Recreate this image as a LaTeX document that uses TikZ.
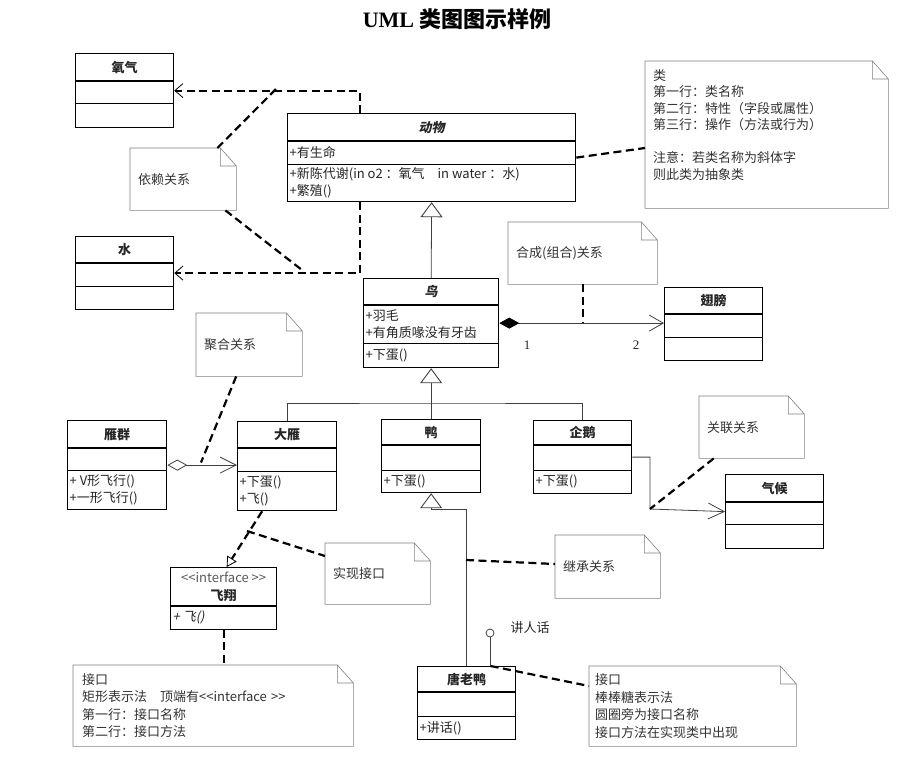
\documentclass[tikz,border=0pt]{standalone}
\usepackage{fontspec}
\setmainfont{Noto Sans CJK SC}[AutoFakeSlant=0.2, BoldItalicFeatures={FakeSlant=0.2}]
\newfontfamily\latinserif{Liberation Serif}
\usetikzlibrary{shapes.multipart,arrows.meta}

% one compartment of a class box: width, height, text
\newcommand{\cpart}[3]{\parbox[c][#2][c]{#1}{\centering #3}}
\newcommand{\cattr}[3]{\parbox[c][#2][c]{#1}{\raggedright\leftskip=2pt #3}}
% folded corner of a note
\newcommand{\noteframe}[1]{%
  \draw[notefr] (#1.north west) -- ([xshift=-16pt]#1.north east) -- ([yshift=-18pt]#1.north east)
    -- (#1.south east) -- (#1.south west) -- cycle
    ([xshift=-16pt]#1.north east) |- ([yshift=-18pt]#1.north east);}

\begin{document}
\begin{tikzpicture}[x=1pt, y=-1pt,
    classbox/.style={draw=black, line width=1.3pt, rectangle split, rectangle split parts=3,
      inner sep=0pt, anchor=north west, text=black!85, fill=white,
      font=\fontsize{13}{17.5}\selectfont},
    note/.style={anchor=north west, inner xsep=8pt, inner ysep=0pt, align=left,
      text=black!80, font=\fontsize{13}{17.5}\selectfont},
    notefr/.style={draw=black!50, line width=0.6pt},
    depend/.style={line width=2.2pt, dash pattern=on 8pt off 4.5pt},
    deparrow/.style={depend, -{Straight Barb[length=8pt,width=14pt,line width=0.8pt]}},
    solidline/.style={draw=black!75, line width=0.8pt},
    gen/.style={solidline, -{Triangle[open,length=15pt,width=22pt,line width=0.9pt]}},
    realize/.style={depend, -{Triangle[open,length=10pt,width=11pt,line width=0.8pt]}},
    assoc/.style={solidline, -{Straight Barb[length=16pt,width=16pt]}},
    compose/.style={solidline, {Diamond[length=20pt,width=11pt,color=black]}-{Straight Barb[length=14pt,width=16pt]}},
    aggreg/.style={solidline, {Diamond[open,length=20pt,width=11pt]}-{Straight Barb[length=16pt,width=16pt]}},
    lolly/.style={draw=black!75, line width=0.8pt, circle, minimum size=8pt, inner sep=0pt},
    mult/.style={font=\latinserif\fontsize{13}{15}\selectfont, text=black!85}]
\useasboundingbox (0,0) rectangle (918,764);

\node[font=\fontsize{22}{26}\selectfont\bfseries] (title) at (457,19) {{\latinserif UML} 类图图示样例};

% classes
\node[classbox] (yangqi) at (75,53) {\cpart{98pt}{26pt}{\bfseries 氧气}\nodepart{two}\cpart{98pt}{21pt}{}\nodepart{three}\cpart{98pt}{23pt}{}};
\node[classbox] (shui) at (75,236) {\cpart{98pt}{25pt}{\bfseries 水}\nodepart{two}\cpart{98pt}{22pt}{}\nodepart{three}\cpart{98pt}{22pt}{}};
\node[classbox] (dongwu) at (287,113) {\cpart{288pt}{26pt}{\bfseries\itshape 动物}\nodepart{two}\cattr{288pt}{22pt}{+有生命}\nodepart{three}\cattr{288pt}{36pt}{+新陈代谢(in o2 ：氧气\quad in water ：水)\\+繁殖()}};
\node[classbox] (niao) at (363,278) {\cpart{135pt}{25pt}{\bfseries\itshape 鸟}\nodepart{two}\cattr{135pt}{37pt}{+羽毛\\+有角质喙没有牙齿}\nodepart{three}\cattr{135pt}{23pt}{+下蛋()}};
\node[classbox] (chibang) at (664,287) {\cpart{98pt}{25pt}{\bfseries 翅膀}\nodepart{two}\cpart{98pt}{22pt}{}\nodepart{three}\cpart{98pt}{22pt}{}};
\node[classbox] (yanqun) at (67,420) {\cpart{99pt}{26pt}{\bfseries 雁群}\nodepart{two}\cpart{99pt}{21pt}{}\nodepart{three}\cattr{99pt}{38pt}{+ V形飞行()\\+一形飞行()}};
\node[classbox] (dayan) at (237,421) {\cpart{99pt}{25pt}{\bfseries 大雁}\nodepart{two}\cpart{99pt}{22pt}{}\nodepart{three}\cattr{99pt}{38pt}{+下蛋()\\+飞()}};
\node[classbox] (ya) at (381,419) {\cpart{99pt}{24pt}{\bfseries 鸭}\nodepart{two}\cpart{99pt}{24pt}{}\nodepart{three}\cattr{99pt}{21pt}{+下蛋()}};
\node[classbox] (qie) at (533,420) {\cpart{98pt}{23pt}{\bfseries 企鹅}\nodepart{two}\cpart{98pt}{24pt}{}\nodepart{three}\cattr{98pt}{22pt}{+下蛋()}};
\node[classbox] (qihou) at (725,474) {\cpart{98pt}{26pt}{\bfseries 气候}\nodepart{two}\cpart{98pt}{21pt}{}\nodepart{three}\cpart{98pt}{23pt}{}};
\node[classbox, rectangle split parts=2] (feixiang) at (170,567) {\cpart{106pt}{37pt}{\textcolor{black!65}{<{}<interface >{}>}\\\bfseries 飞翔}\nodepart{two}\cattr{106pt}{22pt}{\itshape + 飞()}};
\node[classbox] (tang) at (417,666) {\cpart{98pt}{24pt}{\bfseries 唐老鸭}\nodepart{two}\cpart{98pt}{23pt}{}\nodepart{three}\cattr{98pt}{22pt}{+讲话()}};

% notes
\node[note, text width=90pt, minimum height=62pt] (dnote) at (130,148) {依赖关系};
\node[note, text width=227pt, minimum height=147pt, font=\fontsize{13}{16.5}\selectfont] (cnote) at (645,61)
  {类\\第一行：类名称\\第二行：特性（字段或属性）\\第三行：操作（方法或行为）\\[16.5pt]注意：若类名称为斜体字\\则此类为抽象类\\[4pt]\mbox{}};
\node[note, text width=133pt, minimum height=62pt] (hnote) at (508,222) {合成(组合)关系};
\node[note, text width=90pt, minimum height=63pt] (jnote) at (196,313) {聚合关系};
\node[note, text width=89pt, minimum height=62pt] (gnote) at (699,396) {关联关系};
\node[note, text width=89pt, minimum height=61pt] (snote) at (325,543) {实现接口};
\node[note, text width=89pt, minimum height=63pt] (inote) at (555,535) {继承关系};
\node[note, text width=262pt, inner xsep=9pt, minimum height=81pt] (knote) at (73,665)
  {接口\\矩形表示法\quad 顶端有<{}<interface >{}>\\第一行：接口名称\\第二行：接口方法};
\node[note, text width=195pt, inner xsep=6pt, minimum height=80pt] (bnote) at (589,666)
  {接口\\棒棒糖表示法\\圆圈旁为接口名称\\接口方法在实现类中出现};
\foreach \n in {dnote,cnote,hnote,jnote,gnote,snote,inote,knote,bnote}
  \noteframe{\n};

% dependency
\draw[deparrow] ([xshift=-72pt]dongwu.north) |- (yangqi.east);
\draw[deparrow] ([xshift=-72pt]dongwu.south) |- (shui.east);
\coordinate (dep1) at (277,88);
\coordinate (dep2) at (302,270);
\draw[depend] ([xshift=-19pt]dnote.north east) -- (dep1);
\draw[depend] ([xshift=-11pt]dnote.south east) -- (dep2);
\draw[depend] (dongwu.east) -- ([yshift=-87pt]cnote.north west);

% generalization
\draw[gen] (niao.north) -- (dongwu.south);
\coordinate (bar) at (430,403);
\draw[gen] (ya.north) -- (niao.south);
\draw[solidline] (dayan.north) |- (bar) -| (qie.north);
\draw[gen] (tang.north) |- ([yshift=-16pt]ya.south) -- (ya.south);
\coordinate (gpt) at (466,560);
\draw[depend] (gpt) -- ([yshift=-29pt]inote.north west);

% composition
\draw[compose] (niao.east) -- (niao.east -| chibang.west);
\node[mult] (m1) at (527,345) {1};
\node[mult] (m2) at (636,345) {2};
\draw[depend] (hnote.south) -- (hnote.south |- niao.east);

% aggregation
\draw[aggreg] (yanqun.east) -- (yanqun.east -| dayan.west);
\coordinate (agg) at (201,462.5);
\draw[depend] ([xshift=-13pt]jnote.south) -- (agg);

% association
\coordinate (asc) at (650,509);
\draw[assoc] (qie.east) -| (asc) -- (qihou.west);
\draw[depend] ([xshift=-38pt]gnote.south) -- (asc);

% realization
\draw[realize] ([xshift=-25pt]dayan.south) -- ([xshift=3pt]feixiang.north);
\coordinate (rel) at (247,531);
\draw[depend] (rel) -- ([yshift=-13pt]snote.north west);
\draw[depend] (feixiang.south) -- (feixiang.south |- knote.north);

% lollipop
\node[lolly] (lolli) at (490,633) {};
\draw[solidline] (lolli) -- (lolli |- tang.north);
\node[anchor=west, font=\fontsize{13}{15}\selectfont, text=black!85] (talk) at (507,628) {讲人话};
\draw[depend] ([xshift=24pt]tang.north) -- ([yshift=-20pt]bnote.north west);
\end{tikzpicture}
\end{document}
